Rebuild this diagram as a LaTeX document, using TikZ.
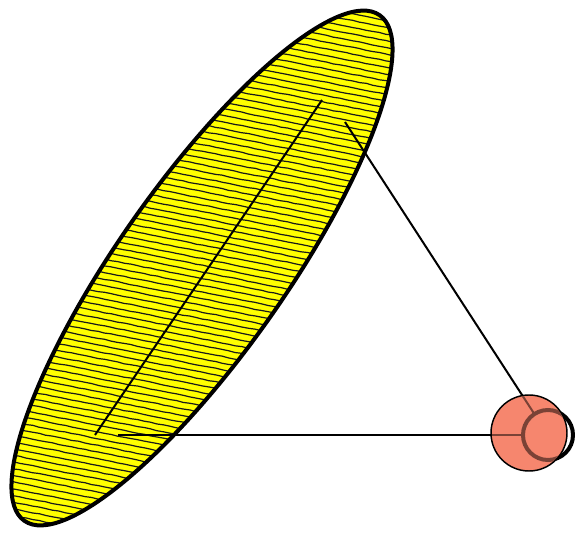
\documentclass[tikz,border=0pt]{standalone}
\usetikzlibrary{decorations.pathmorphing}
\begin{document}
\begin{tikzpicture}[x=0.75pt,y=0.75pt,
  hatchline/.style={line width=0.9pt, black!90, decorate, decoration={random steps, segment length=5pt, amplitude=0.25pt}},
  axisline/.style={line width=1.5pt, black},
  ellshape/.style={rotate around={54.9:(202,265)}},
  ringnode/.style={circle, draw=black, line width=3pt, minimum size=37.5pt, inner sep=0pt},
  ballnode/.style={circle, draw=black, fill=ballcol, line width=1.1pt, minimum size=57pt, inner sep=0pt}]
\definecolor{ballcol}{RGB}{246,134,110}
\definecolor{ellcol}{RGB}{255,255,0}
\useasboundingbox (0,0) rectangle (575,533);
% ellipse with hatching
\fill[ellcol, ellshape] (202,265) ellipse [x radius=309, y radius=84];
\begin{scope}
  \clip[ellshape] (202,265) ellipse [x radius=309, y radius=84];
  \foreach \i in {0,...,96} {
    \draw[hatchline] (0,\i*6.7) -- (420,\i*6.7-84);
  }
\end{scope}
\draw[line width=3pt, ellshape] (202,265) ellipse [x radius=309, y radius=84];
% points
\coordinate (A) at (95,98);
\coordinate (B) at (322,433);
\coordinate (C) at (118,98);
\coordinate (D) at (345,411);
\node[ringnode] (ring) at (548,98) {};
\draw[axisline] (A) -- (B);
\draw[axisline] (C) -- (ring);
\draw[axisline] (D) -- (ring);
\node[ballnode] (ball) at (529,100) {};
% parts seen through the ball
\begin{scope}
  \clip (529,100) circle (37);
  \draw[axisline, opacity=0.5] (C) -- (ring);
  \draw[axisline, opacity=0.5] (D) -- (ring);
  \draw[black, line width=3pt, opacity=0.5] (548,98) circle (25);
\end{scope}
\end{tikzpicture}
\end{document}
